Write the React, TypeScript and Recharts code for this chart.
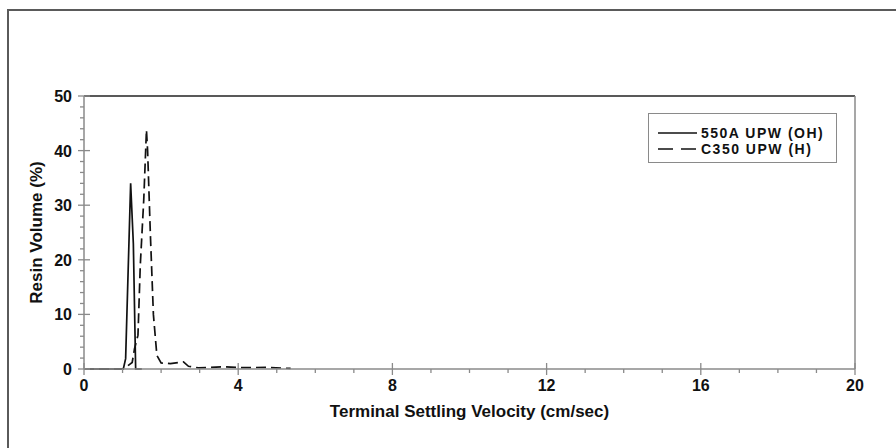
import { Label, Legend, Line, LineChart, ReferenceLine, XAxis, YAxis } from "recharts"

// 550A UPW (OH) - solid
const solidX = [0, 0.5, 1.0, 1.02, 1.08, 1.21, 1.28, 1.34, 1.5]
const solidY = [0, 0, 0, 0, 1.9, 34, 23, 0, 0]

// C350 UPW (H) - dashed
const dashX = [0, 1.0, 1.08, 1.25, 1.31, 1.4, 1.46, 1.55, 1.62, 1.65, 1.72, 1.8, 1.89, 2.0, 2.24, 2.58, 2.71, 2.97, 3.62, 4.14, 4.74, 5.36]
const dashY = [0, 0, 0.3, 1.2, 3.7, 6.2, 19, 31, 43.8, 40, 25, 10, 2.5, 1.1, 1.0, 1.3, 0.5, 0.2, 0.4, 0.25, 0.3, 0.1]

const xTicks = Array.from({ length: 21 }, (_, i) => i)
const yTicks = Array.from({ length: 26 }, (_, i) => i * 2)
const xLabelEvery = 4
const yLabelEvery = 10

const seriesNames = ["550A UPW (OH)", "C350 UPW (H)"]

const solidData = solidX.map((x, i) => ({ x, v: solidY[i] }))
const dashData = dashX.map((x, i) => ({ x, v: dashY[i] }))

const FONT = "'Liberation Sans', Arial, sans-serif"
const AXIS = "#8a8a8a"
const INK = "#111"

function XTick({ x, y, payload }: any) {
  const major = payload.value % xLabelEvery === 0
  return (
    <g>
      <line x1={x} x2={x} y1={major ? y - 6 : y} y2={y + (major ? 6 : 4)} stroke={AXIS} strokeWidth={1.3} />
      {major && (
        <text x={x} y={y + 22} textAnchor="middle" fontFamily={FONT} fontWeight="bold" fontSize={16} fill={INK}>
          {payload.value}
        </text>
      )}
    </g>
  )
}

function YTick({ x, y, payload }: any) {
  const major = payload.value % yLabelEvery === 0
  return (
    <g>
      <line x1={x - (major ? 6 : 4)} x2={major ? x + 6 : x} y1={y} y2={y} stroke={AXIS} strokeWidth={1.3} />
      {major && (
        <text x={x - 12} y={y + 6} textAnchor="end" fontFamily={FONT} fontWeight="bold" fontSize={16} fill={INK}>
          {payload.value}
        </text>
      )}
    </g>
  )
}

function LegendBox() {
  return (
    <div
      style={{
        width: 187,
        height: 48,
        border: "1.5px solid #8a8a8a",
        background: "#fff",
        fontFamily: FONT,
        fontWeight: "bold",
        fontSize: 14,
        letterSpacing: 1.5,
        color: INK,
        boxSizing: "content-box",
      }}
    >
      {seriesNames.map((name, i) => (
        <div key={name} style={{ display: "flex", alignItems: "center", height: 16, marginTop: i === 0 ? 11 : 0 }}>
          <svg width={52} height={16} style={{ flex: "none" }}>
            <line x1={9} x2={48} y1={8} y2={8} stroke={INK} strokeWidth={1.6} strokeDasharray={i === 0 ? undefined : "15 8"} />
          </svg>
          <span style={{ lineHeight: "16px", whiteSpace: "nowrap" }}>{name}</span>
        </div>
      ))}
    </div>
  )
}

export default function App() {
  return (
    <div style={{ position: "fixed", left: 0, top: 0, width: 896, height: 448, overflow: "hidden", background: "#fff" }}>
      <div
        style={{
          position: "absolute",
          left: 7,
          top: 9,
          width: 900,
          height: 450,
          borderLeft: "2px solid #5a5a5a",
          borderTop: "2px solid #5a5a5a",
        }}
      />
      <div style={{ position: "absolute", left: 0, top: 0 }}>
        <LineChart width={896} height={448} margin={{ top: 96, right: 41, bottom: 39, left: 24 }}>
          <XAxis
            type="number"
            dataKey="x"
            domain={[0, 20]}
            ticks={xTicks}
            interval={0}
            allowDataOverflow
            height={40}
            tickSize={0}
            tickMargin={0}
            tickLine={false}
            tick={<XTick />}
            axisLine={{ stroke: AXIS, strokeWidth: 1.5 }}
          >
            <Label
              content={({ viewBox }: any) => (
                <text
                  x={viewBox.x + viewBox.width / 2}
                  y={viewBox.y + 48}
                  textAnchor="middle"
                  fontFamily={FONT}
                  fontWeight="bold"
                  fontSize={17}
                  fill={INK}
                >
                  Terminal Settling Velocity (cm/sec)
                </text>
              )}
            />
          </XAxis>
          <YAxis
            type="number"
            domain={[0, 50]}
            ticks={yTicks}
            interval={0}
            width={60}
            tickSize={0}
            tickMargin={0}
            tickLine={false}
            tick={<YTick />}
            axisLine={{ stroke: AXIS, strokeWidth: 1.5 }}
          >
            <Label
              content={({ viewBox }: any) => {
                const cx = viewBox.x + 12
                const cy = viewBox.y + viewBox.height / 2
                return (
                  <text
                    x={cx}
                    y={cy}
                    transform={`rotate(-90 ${cx} ${cy})`}
                    textAnchor="middle"
                    dominantBaseline="central"
                    fontFamily={FONT}
                    fontWeight="bold"
                    fontSize={17}
                    fill={INK}
                  >
                    Resin Volume (%)
                  </text>
                )
              }}
            />
          </YAxis>
          <ReferenceLine y={50} stroke="#222" strokeWidth={1.5} />
          <ReferenceLine x={20} stroke={AXIS} strokeWidth={1.5} />
          <Legend
            layout="vertical"
            align="center"
            verticalAlign="middle"
            content={<LegendBox />}
            wrapperStyle={{ position: "absolute", left: 648, top: 113, width: 190 }}
          />
          <Line
            data={solidData}
            dataKey="v"
            name={seriesNames[0]}
            type="linear"
            stroke={INK}
            strokeWidth={1.7}
            dot={false}
            isAnimationActive={false}
          />
          <Line
            data={dashData}
            dataKey="v"
            name={seriesNames[1]}
            type="linear"
            stroke={INK}
            strokeWidth={1.7}
            strokeDasharray="10 5"
            dot={false}
            isAnimationActive={false}
          />
        </LineChart>
      </div>
    </div>
  )
}
